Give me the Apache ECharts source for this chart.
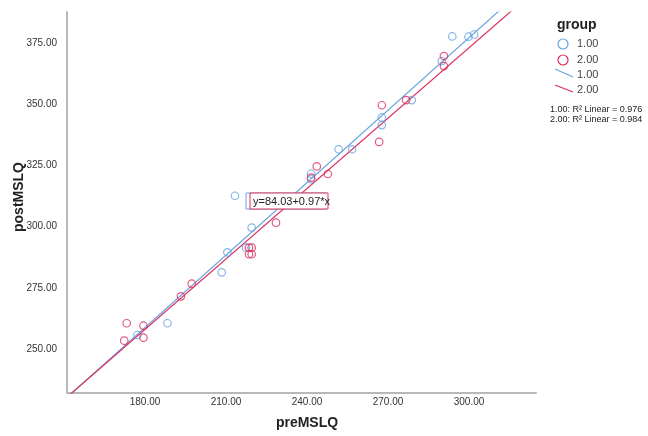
<!DOCTYPE html>
<html>
<head>
<meta charset="utf-8">
<script src="https://cdn.jsdelivr.net/npm/echarts@6/dist/echarts.min.js"></script>
<style>html,body{margin:0;padding:0;background:#fff}#c{width:648px;height:436px}</style>
</head>
<body>
<div id="c"></div>
<script>
// ---- data ----
var group1 = [ // [preMSLQ, postMSLQ]
  [213.3,312.6],[219.5,299.6],[217.4,291.4],[210.5,289.5],[208.4,281.3],
  [188.3,260.5],[177.2,255.7],[293.8,377.7],[299.8,377.6],[301.9,378.5],
  [289.9,367.6],[278.8,351.7],[267.7,344.6],[267.7,341.5],[251.7,331.6],
  [256.7,331.6],[241.5,321.6],[241.5,319.4]
];
var group2 = [
  [228.5,301.6],[218.5,291.4],[219.5,291.4],[218.5,288.7],[219.5,288.7],
  [197.3,276.7],[193.3,271.5],[173.2,260.5],[179.4,259.5],[172.3,253.4],
  [179.4,254.6],[290.7,369.7],[290.7,365.6],[276.7,351.7],[267.7,349.6],
  [266.7,334.6],[243.6,324.6],[247.7,321.5],[241.5,320.0]
];
var fit1 = {intercept: 81.1, slope: 0.987};   // group 1.00 linear fit
var fit2 = {intercept: 85.4, slope: 0.959};   // group 2.00 linear fit
var xTicks = [180, 210, 240, 270, 300];
var yTicks = [250, 275, 300, 325, 350, 375];
var xRange = [151.1, 324.8];
var yRange = [232, 387.7];
var groupNames = ['1.00', '2.00'];
var r2Labels = ['1.00: R² Linear = 0.976', '2.00: R² Linear = 0.984'];
var fitLabel = 'y=84.03+0.97*x';

var BLUE = '#6aa3e0', RED = '#dc2f5e';
var FONT = '"Liberation Sans", Arial, sans-serif';

function fitLine(f) {
  return [[xRange[0], f.intercept + f.slope * xRange[0]],
          [xRange[1], f.intercept + f.slope * xRange[1]]];
}

var chart = echarts.init(document.getElementById('c'));
chart.setOption({
  animation: false,
  backgroundColor: '#fff',
  grid: {left: 67, right: 112, top: 12, bottom: 43},
  xAxis: {
    type: 'value', min: xRange[0], max: xRange[1],
    axisLine: {show: true, onZero: false, lineStyle: {color: '#b8b8b8', width: 2}},
    axisTick: {show: false},
    splitLine: {show: false},
    axisLabel: {customValues: xTicks, formatter: function (v) { return v.toFixed(2); },
      color: '#333', fontSize: 10, fontFamily: FONT, margin: 4}
  },
  yAxis: {
    type: 'value', min: yRange[0], max: yRange[1],
    axisLine: {show: true, onZero: false, lineStyle: {color: '#b8b8b8', width: 2}},
    axisTick: {show: false},
    splitLine: {show: false},
    axisLabel: {customValues: yTicks, formatter: function (v) { return v.toFixed(2); },
      color: '#333', fontSize: 10, fontFamily: FONT, margin: 10}
  },
  series: [
    {type: 'line', data: fitLine(fit1), symbol: 'none', clip: true,
      lineStyle: {color: BLUE, width: 1.2}, z: 2},
    {type: 'line', data: fitLine(fit2), symbol: 'none', clip: true,
      lineStyle: {color: RED, width: 1.2}, z: 2},
    {type: 'scatter', name: groupNames[0], data: group1, symbol: 'circle', symbolSize: 7.5,
      itemStyle: {color: 'rgba(0,0,0,0)', borderColor: BLUE, borderWidth: 1.2}, z: 3},
    {type: 'scatter', name: groupNames[1], data: group2, symbol: 'circle', symbolSize: 7.5,
      itemStyle: {color: 'rgba(0,0,0,0)', borderColor: RED, borderWidth: 1.2}, z: 4}
  ],
  graphic: [
    // axis titles
    {type: 'text', x: 307, y: 423, style: {text: 'preMSLQ', font: 'bold 14px ' + FONT,
      fill: '#222', align: 'center', verticalAlign: 'middle'}},
    {type: 'text', x: 19, y: 197, rotation: Math.PI / 2, style: {text: 'postMSLQ',
      font: 'bold 14px ' + FONT, fill: '#222', align: 'center', verticalAlign: 'middle'}},
    // fit label box
    {type: 'rect', shape: {x: 246, y: 193, width: 80, height: 16},
      style: {fill: '#fff', stroke: BLUE, lineWidth: 1}, z: 10},
    {type: 'rect', shape: {x: 250, y: 193, width: 78, height: 16},
      style: {fill: '#fff', stroke: RED, lineWidth: 1}, z: 11},
    {type: 'text', x: 253, y: 201.5, z: 12, style: {text: fitLabel, font: '11px ' + FONT,
      fill: '#222', verticalAlign: 'middle'}},
    // legend
    {type: 'text', x: 557, y: 25, style: {text: 'group', font: 'bold 14px ' + FONT,
      fill: '#222', verticalAlign: 'middle'}},
    {type: 'circle', shape: {cx: 563, cy: 44, r: 5}, style: {fill: 'none', stroke: BLUE, lineWidth: 1.2}},
    {type: 'text', x: 577, y: 44, style: {text: groupNames[0], font: '11px ' + FONT, fill: '#444', verticalAlign: 'middle'}},
    {type: 'circle', shape: {cx: 563, cy: 60, r: 5}, style: {fill: 'none', stroke: RED, lineWidth: 1.2}},
    {type: 'text', x: 577, y: 60, style: {text: groupNames[1], font: '11px ' + FONT, fill: '#444', verticalAlign: 'middle'}},
    {type: 'line', shape: {x1: 555, y1: 69, x2: 573, y2: 77}, style: {stroke: BLUE, lineWidth: 1.2}},
    {type: 'text', x: 577, y: 75, style: {text: groupNames[0], font: '11px ' + FONT, fill: '#444', verticalAlign: 'middle'}},
    {type: 'line', shape: {x1: 555, y1: 85, x2: 573, y2: 92}, style: {stroke: RED, lineWidth: 1.2}},
    {type: 'text', x: 577, y: 90, style: {text: groupNames[1], font: '11px ' + FONT, fill: '#444', verticalAlign: 'middle'}},
    {type: 'text', x: 550, y: 110, style: {text: r2Labels[0], font: '9px ' + FONT, fill: '#222', verticalAlign: 'middle'}},
    {type: 'text', x: 550, y: 120, style: {text: r2Labels[1], font: '9px ' + FONT, fill: '#222', verticalAlign: 'middle'}}
  ]
});
</script>
</body>
</html>
